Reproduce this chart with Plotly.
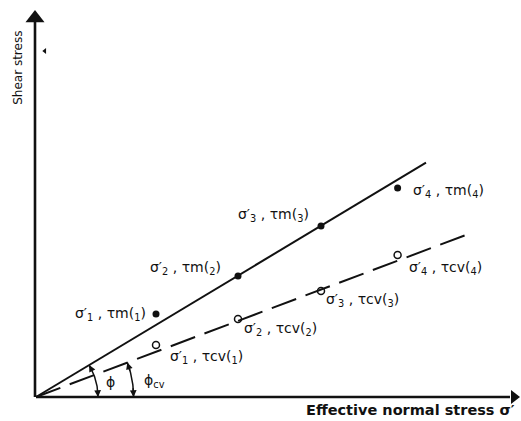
import numpy as np
import plotly.graph_objects as go

# Effective normal stress of the four tests and the measured shear stresses
sigma_eff = [30.0, 50.5, 71.25, 90.4]
tau_m = [20.75, 30.25, 42.75, 52.25]      # peak (maximum) shear stress
tau_cv = [13.0, 19.5, 26.5, 35.5]         # constant-volume shear stress

labels_m = ["σ′<sub>1</sub> , τm(<sub>1</sub>)", "σ′<sub>2</sub> , τm(<sub>2</sub>)",
            "σ′<sub>3</sub> , τm(<sub>3</sub>)", "σ′<sub>4</sub> , τm(<sub>4</sub>)"]
labels_cv = ["σ′<sub>1</sub> , τcv(<sub>1</sub>)", "σ′<sub>2</sub> , τcv(<sub>2</sub>)",
             "σ′<sub>3</sub> , τcv(<sub>3</sub>)", "σ′<sub>4</sub> , τcv(<sub>4</sub>)"]

# Failure envelopes through the origin
phi_deg = 31.0
phi_cv_deg = 20.65
sigma_end_m = 97.5
sigma_end_cv = 107.5

# Extent of the drawn axes
x_axis_end = 119.5
y_axis_end = 94.7

FONT = "DejaVu Sans"
INK = "#111111"

fig = go.Figure()

# axes with arrowheads
fig.add_trace(go.Scatter(x=[0, x_axis_end - 1], y=[0, 0], mode="lines",
                         line=dict(color=INK, width=2.6), hoverinfo="skip"))
fig.add_trace(go.Scatter(x=[-0.25, -0.25], y=[0, y_axis_end], mode="lines",
                         line=dict(color=INK, width=2.6), hoverinfo="skip"))
fig.add_trace(go.Scatter(x=[x_axis_end], y=[0], mode="markers",
                         marker=dict(symbol="triangle-right", size=12, color=INK),
                         cliponaxis=False, hoverinfo="skip"))
fig.add_trace(go.Scatter(x=[-0.25], y=[y_axis_end], mode="markers",
                         marker=dict(symbol="triangle-up", size=16.5, color=INK),
                         cliponaxis=False, hoverinfo="skip"))
fig.add_trace(go.Scatter(x=[2.2], y=[86.5], mode="markers",
                         marker=dict(symbol="triangle-left", size=5, color=INK),
                         hoverinfo="skip"))

# envelopes
t_m = np.tan(np.radians(phi_deg))
t_cv = np.tan(np.radians(phi_cv_deg))
fig.add_trace(go.Scatter(x=[0, sigma_end_m], y=[0, sigma_end_m * t_m], mode="lines",
                         line=dict(color=INK, width=2), hoverinfo="skip"))
fig.add_trace(go.Scatter(x=[0, sigma_end_cv], y=[0, sigma_end_cv * t_cv], mode="lines",
                         line=dict(color=INK, width=2, dash="26px,10px"), hoverinfo="skip"))

# test points
fig.add_trace(go.Scatter(x=sigma_eff, y=tau_m, mode="markers",
                         marker=dict(symbol="circle", size=7, color=INK),
                         hoverinfo="skip"))
fig.add_trace(go.Scatter(x=sigma_eff, y=tau_cv, mode="markers",
                         marker=dict(symbol="circle-open", size=7, color=INK,
                                     line=dict(width=1.5)),
                         hoverinfo="skip"))

# angle arcs
for ang, r in [(phi_deg, 15.5), (phi_cv_deg, 24.4)]:
    th = np.radians(np.linspace(0, ang, 40))
    fig.add_trace(go.Scatter(x=r * np.cos(th), y=r * np.sin(th), mode="lines",
                             line=dict(color=INK, width=1.5), hoverinfo="skip"))

annotations = []
for ang, r in [(phi_deg, 15.5), (phi_cv_deg, 24.4)]:
    for a_end, a_back in [(0.0, 6.0), (ang, ang - 6.0)]:
        e, b = np.radians(a_end), np.radians(a_back)
        annotations.append(dict(x=r * np.cos(e), y=r * np.sin(e),
                                ax=r * np.cos(b), ay=r * np.sin(b),
                                xref="x", yref="y", axref="x", ayref="y",
                                showarrow=True, arrowhead=2, arrowsize=0.9,
                                arrowwidth=1.5, arrowcolor=INK, standoff=0, text=""))

offs_m = [("right", -8, 0), ("right", -15, 8), ("right", -10, 11), ("left", 13, -3)]
offs_cv = [("left", 12, -12), ("left", 4, -10), ("left", 3, -9), ("left", 9, -13)]
for xs, ys, labs, offs in [(sigma_eff, tau_m, labels_m, offs_m),
                           (sigma_eff, tau_cv, labels_cv, offs_cv)]:
    for x, y, lab, (anc, dx, dy) in zip(xs, ys, labs, offs):
        annotations.append(dict(x=x, y=y, text=lab, showarrow=False, xanchor=anc,
                                yanchor="middle", xshift=dx, yshift=dy,
                                font=dict(family=FONT, size=14, color=INK)))

annotations += [
    dict(x=18.5, y=3.8, text="ϕ", showarrow=False,
         font=dict(family=FONT, size=14, color=INK)),
    dict(x=29.7, y=4.0, text="ϕ<sub>cv</sub>", showarrow=False,
         font=dict(family=FONT, size=14, color=INK)),
    dict(x=120.2, y=-3.3, text="<b>Effective normal stress σ′</b>", showarrow=False,
         xanchor="right", font=dict(family=FONT, size=14.5, color=INK)),
    dict(x=-4.5, y=82.3, text="Shear stress", showarrow=False, textangle=-90,
         font=dict(family=FONT, size=12, color=INK)),
]

fig.update_layout(
    width=521, height=421, autosize=False,
    margin=dict(l=0, r=0, t=0, b=0),
    paper_bgcolor="white", plot_bgcolor="white",
    showlegend=False,
    xaxis=dict(range=[-9, 121.25], visible=False, fixedrange=True),
    yaxis=dict(range=[-6, 99.25], visible=False, fixedrange=True),
    annotations=annotations,
)

fig.write_html("out.html")
